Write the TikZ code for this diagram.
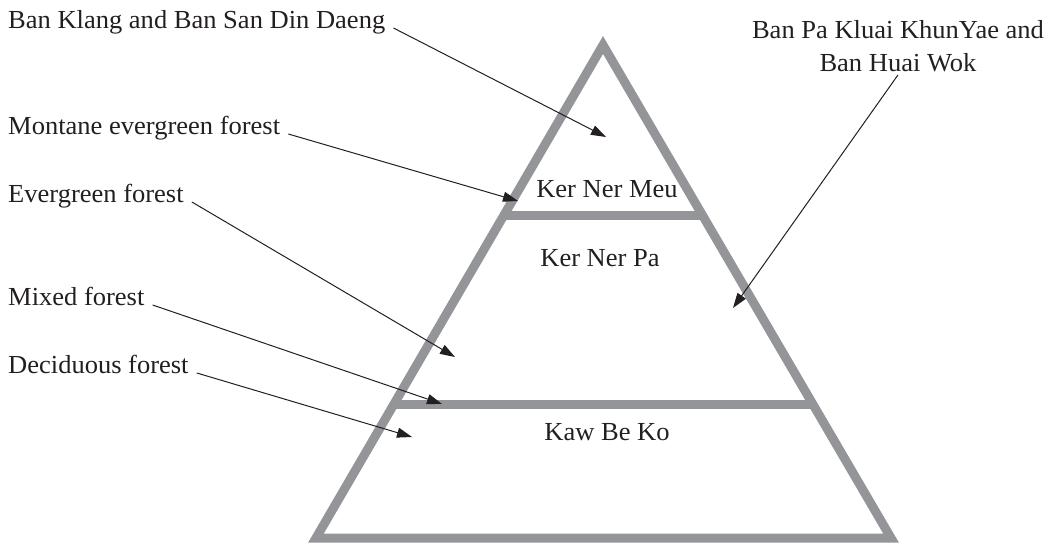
\documentclass[tikz,border=0pt]{standalone}
\usepackage{fontspec}
\setmainfont{Liberation Serif}[FakeStretch=1.02]
\usetikzlibrary{arrows.meta,positioning,calc}
\definecolor{pyrgray}{RGB}{147,149,152}
\definecolor{txtdark}{RGB}{35,31,32}
\tikzstyle{arrow} = [line width=1pt,-{Triangle[length=15pt,width=10pt]},color=txtdark]
\tikzstyle{pyr} = [line width=9pt,color=pyrgray,line join=miter]
\tikzstyle{lbl} = [anchor=base west,inner xsep=8pt,inner ysep=0pt]

\begin{document}
\begin{tikzpicture}[x=1pt,y=-1pt,font=\fontsize{26}{33}\selectfont,text=txtdark]
\useasboundingbox (0,0) rectangle (1045,544);
% pyramid
\coordinate (apex) at (603,45);
\coordinate (bl) at (316,538);
\coordinate (br) at (891,538);
\draw[pyr] (apex) -- (bl) -- (br) -- cycle;
\draw[pyr] ($(apex)!0.345!(bl)$) -- ($(apex)!0.345!(br)$);
\draw[pyr] ($(apex)!0.729!(bl)$) -- ($(apex)!0.729!(br)$);

% layers
\node[anchor=base] (meu) at (607,197) {Ker Ner Meu};
\node[anchor=base] (pa) at (600,266) {Ker Ner Pa};
\node[anchor=base] (kaw) at (607,440) {Kaw Be Ko};

% labels on the left
\node[lbl] (klang) at (0,28) {Ban Klang and Ban San Din Daeng};
\node[lbl] (montane) at (0,134) {Montane evergreen forest};
\node[lbl] (evergreen) at (0,202) {Evergreen forest};
\node[lbl] (mixed) at (0,305) {Mixed forest};
\node[lbl] (deciduous) at (0,373) {Deciduous forest};
% label on the right
\node[align=center,inner sep=3pt] (huaiwok) at (898,46) {Ban Pa Kluai KhunYae and\\Ban Huai Wok};

% arrow tips
\coordinate (tklang) at (606,137);
\coordinate (tmontane) at (518,201);
\coordinate (tevergreen) at (455,357);
\coordinate (tmixed) at (442,404);
\coordinate (tdeciduous) at (412,437);
\coordinate (thuaiwok) at (733,308);

\draw[arrow] (klang.base east) -- (tklang);
\draw[arrow] (montane.base east) -- (tmontane);
\draw[arrow] (evergreen.base east) -- (tevergreen);
\draw[arrow] (mixed.base east) -- (tmixed);
\draw[arrow] (deciduous.base east) -- (tdeciduous);
\draw[arrow] (huaiwok.south) -- (thuaiwok);
\end{tikzpicture}
\end{document}
